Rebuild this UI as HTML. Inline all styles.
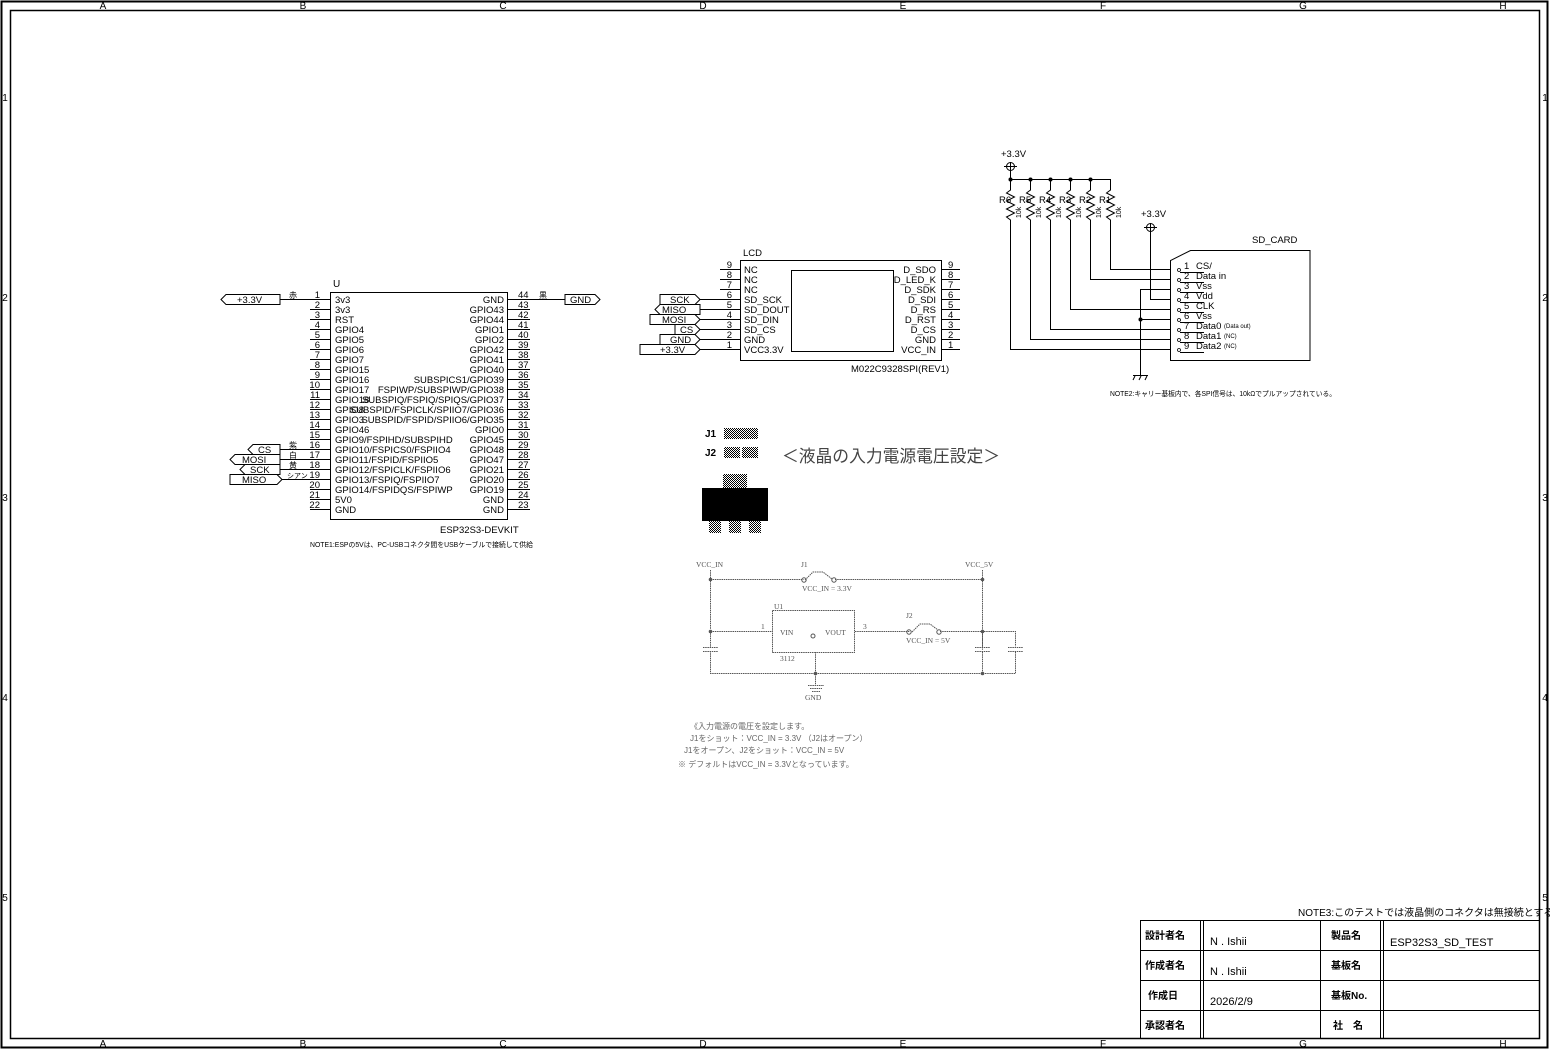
<!DOCTYPE html>
<html><head><meta charset="utf-8"><style>
html,body{margin:0;padding:0;background:#fff;}
svg{display:block;font-family:"Liberation Sans","Noto Sans CJK JP",sans-serif;}
</style></head><body>
<svg width="1550" height="1050" viewBox="0 0 1550 1050" xmlns="http://www.w3.org/2000/svg" font-size="10" fill="#000">
<defs>
<pattern id="h" width="2" height="2" patternUnits="userSpaceOnUse"><rect width="1" height="1" fill="#000"/><rect x="1" y="1" width="1" height="1" fill="#000"/></pattern>
</defs>
<g fill="none" stroke="#000" stroke-width="1">
<rect x="1.5" y="1.5" width="1546" height="1046" stroke-width="2"/>
<rect x="10.5" y="10.5" width="1529" height="1028" stroke-width="1.5"/>
</g>
<g text-anchor="middle">
<text x="103" y="9">A</text><text x="303" y="9">B</text><text x="503" y="9">C</text><text x="703" y="9">D</text><text x="903" y="9">E</text><text x="1103" y="9">F</text><text x="1303" y="9">G</text><text x="1503" y="9">H</text>
<text x="103" y="1047">A</text><text x="303" y="1047">B</text><text x="503" y="1047">C</text><text x="703" y="1047">D</text><text x="903" y="1047">E</text><text x="1103" y="1047">F</text><text x="1303" y="1047">G</text><text x="1503" y="1047">H</text>
<text x="5" y="101">1</text><text x="5" y="301">2</text><text x="5" y="501">3</text><text x="5" y="701">4</text><text x="5" y="901">5</text>
<text x="1545" y="101">1</text><text x="1545" y="301">2</text><text x="1545" y="501">3</text><text x="1545" y="701">4</text><text x="1545" y="901">5</text>
</g>

<!-- ESP32 -->
<g fill="none" stroke="#000">
<rect x="330.5" y="292.5" width="177" height="227"/>
<path d="M310 309.5h20M310 319.5h20M310 329.5h20M310 339.5h20M310 349.5h20M310 359.5h20M310 369.5h20M310 379.5h20M310 389.5h20M310 399.5h20M310 409.5h20M310 419.5h20M310 429.5h20M310 439.5h20M310 489.5h20M310 499.5h20M310 509.5h20"/>
<path d="M507 309.5h23M507 319.5h23M507 329.5h23M507 339.5h23M507 349.5h23M507 359.5h23M507 369.5h23M507 379.5h23M507 389.5h23M507 399.5h23M507 409.5h23M507 419.5h23M507 429.5h23M507 439.5h23M507 449.5h23M507 459.5h23M507 469.5h23M507 479.5h23M507 489.5h23M507 499.5h23M507 509.5h23"/>
<path d="M280 299.5h50M507 299.5h58M280 449.5h50M280 459.5h50M280 469.5h50M282 479.5h48"/>
<path d="M221 299.5l5-5h54v10h-54z"/>
<path d="M565 299.5v-5h30l5 5-5 5h-30z"/>
<path d="M248 449.5l5-5h27v10h-27z"/>
<path d="M230 459.5l5-5h45v10h-45z"/>
<path d="M240 469.5l5-5h35v10h-35z"/>
<path d="M230 474.5h47l5 5-5 5h-47z"/>
</g>
<text x="333" y="287">U</text>
<g font-size="9.5">
<text x="237" y="303">+3.3V</text><text x="570" y="303">GND</text>
<text x="258" y="453">CS</text><text x="242" y="463">MOSI</text><text x="250" y="473">SCK</text><text x="242" y="483">MISO</text>
</g>
<g font-size="8"><text x="289" y="298">赤</text><text x="539" y="298">黒</text><text x="289" y="448">紫</text><text x="289" y="458">白</text><text x="289" y="468">黄</text><text x="287" y="478" font-size="7">シアン</text></g>
<g font-size="9.5" text-anchor="end">
<text x="320" y="298">1</text><text x="320" y="308">2</text><text x="320" y="318">3</text><text x="320" y="328">4</text><text x="320" y="338">5</text><text x="320" y="348">6</text><text x="320" y="358">7</text><text x="320" y="368">8</text><text x="320" y="378">9</text><text x="320" y="388">10</text><text x="320" y="398">11</text><text x="320" y="408">12</text><text x="320" y="418">13</text><text x="320" y="428">14</text><text x="320" y="438">15</text><text x="320" y="448">16</text><text x="320" y="458">17</text><text x="320" y="468">18</text><text x="320" y="478">19</text><text x="320" y="488">20</text><text x="320" y="498">21</text><text x="320" y="508">22</text>
</g>
<g font-size="9.5">
<text x="518" y="298">44</text><text x="518" y="308">43</text><text x="518" y="318">42</text><text x="518" y="328">41</text><text x="518" y="338">40</text><text x="518" y="348">39</text><text x="518" y="358">38</text><text x="518" y="368">37</text><text x="518" y="378">36</text><text x="518" y="388">35</text><text x="518" y="398">34</text><text x="518" y="408">33</text><text x="518" y="418">32</text><text x="518" y="428">31</text><text x="518" y="438">30</text><text x="518" y="448">29</text><text x="518" y="458">28</text><text x="518" y="468">27</text><text x="518" y="478">26</text><text x="518" y="488">25</text><text x="518" y="498">24</text><text x="518" y="508">23</text>
</g>
<g font-size="9.5">
<text x="335" y="303">3v3</text><text x="335" y="313">3v3</text><text x="335" y="323">RST</text><text x="335" y="333">GPIO4</text><text x="335" y="343">GPIO5</text><text x="335" y="353">GPIO6</text><text x="335" y="363">GPIO7</text><text x="335" y="373">GPIO15</text><text x="335" y="383">GPIO16</text><text x="335" y="393">GPIO17</text><text x="335" y="403">GPIO18</text><text x="335" y="413">GPIO8</text><text x="335" y="423">GPIO3</text><text x="335" y="433">GPIO46</text><text x="335" y="443">GPIO9/FSPIHD/SUBSPIHD</text><text x="335" y="453">GPIO10/FSPICS0/FSPIIO4</text><text x="335" y="463">GPIO11/FSPID/FSPIIO5</text><text x="335" y="473">GPIO12/FSPICLK/FSPIIO6</text><text x="335" y="483">GPIO13/FSPIQ/FSPIIO7</text><text x="335" y="493">GPIO14/FSPIDQS/FSPIWP</text><text x="335" y="503">5V0</text><text x="335" y="513">GND</text>
</g>
<g font-size="9.5" text-anchor="end">
<text x="504" y="303">GND</text><text x="504" y="313">GPIO43</text><text x="504" y="323">GPIO44</text><text x="504" y="333">GPIO1</text><text x="504" y="343">GPIO2</text><text x="504" y="353">GPIO42</text><text x="504" y="363">GPIO41</text><text x="504" y="373">GPIO40</text><text x="504" y="383">SUBSPICS1/GPIO39</text><text x="504" y="393">FSPIWP/SUBSPIWP/GPIO38</text><text x="504" y="403">SUBSPIQ/FSPIQ/SPIQS/GPIO37</text><text x="504" y="413">SUBSPID/FSPICLK/SPIIO7/GPIO36</text><text x="504" y="423">SUBSPID/FSPID/SPIIO6/GPIO35</text><text x="504" y="433">GPIO0</text><text x="504" y="443">GPIO45</text><text x="504" y="453">GPIO48</text><text x="504" y="463">GPIO47</text><text x="504" y="473">GPIO21</text><text x="504" y="483">GPIO20</text><text x="504" y="493">GPIO19</text><text x="504" y="503">GND</text><text x="504" y="513">GND</text>
</g>
<text x="440" y="533" font-size="9.5">ESP32S3-DEVKIT</text>
<text x="310" y="547" font-size="7" textLength="223" lengthAdjust="spacingAndGlyphs">NOTE1:ESPの5Vは、PC-USBコネクタ間をUSBケーブルで接続して供給</text>

<!-- LCD -->
<g fill="none" stroke="#000">
<rect x="740.5" y="260.5" width="201" height="100"/>
<rect x="791.5" y="270.5" width="102" height="81"/>
<path d="M720 269.5h20M720 279.5h20M720 289.5h20M700 299.5h40M700 309.5h40M700 319.5h40M700 329.5h40M700 339.5h40M700 349.5h40"/>
<path d="M941 269.5h19M941 279.5h19M941 289.5h19M941 299.5h19M941 309.5h19M941 319.5h19M941 329.5h19M941 339.5h19M941 349.5h19"/>
<path d="M660 294.5h35l5 5-5 5h-35z"/>
<path d="M655 309.5l5-5h40v10h-40z"/>
<path d="M650 314.5h45l5 5-5 5h-45z"/>
<path d="M675 324.5h20l5 5-5 5h-20z"/>
<path d="M660 334.5h35l5 5-5 5h-35z"/>
<path d="M640 344.5h55l5 5-5 5h-55z"/>
</g>
<text x="743" y="256" font-size="9.5">LCD</text>
<g font-size="9.5"><text x="670" y="303">SCK</text><text x="662" y="313">MISO</text><text x="662" y="323">MOSI</text><text x="680" y="333">CS</text><text x="670" y="343">GND</text><text x="660" y="353">+3.3V</text></g>
<g font-size="9.5" text-anchor="end"><text x="732" y="268">9</text><text x="732" y="278">8</text><text x="732" y="288">7</text><text x="732" y="298">6</text><text x="732" y="308">5</text><text x="732" y="318">4</text><text x="732" y="328">3</text><text x="732" y="338">2</text><text x="732" y="348">1</text></g>
<g font-size="9.5"><text x="948" y="268">9</text><text x="948" y="278">8</text><text x="948" y="288">7</text><text x="948" y="298">6</text><text x="948" y="308">5</text><text x="948" y="318">4</text><text x="948" y="328">3</text><text x="948" y="338">2</text><text x="948" y="348">1</text></g>
<g font-size="9.5"><text x="744" y="273">NC</text><text x="744" y="283">NC</text><text x="744" y="293">NC</text><text x="744" y="303">SD_SCK</text><text x="744" y="313">SD_DOUT</text><text x="744" y="323">SD_DIN</text><text x="744" y="333">SD_CS</text><text x="744" y="343">GND</text><text x="744" y="353">VCC3.3V</text></g>
<g font-size="9.5" text-anchor="end"><text x="936" y="273">D_SDO</text><text x="936" y="283">D_LED_K</text><text x="936" y="293">D_SDK</text><text x="936" y="303">D_SDI</text><text x="936" y="313">D_RS</text><text x="936" y="323">D_RST</text><text x="936" y="333">D_CS</text><text x="936" y="343">GND</text><text x="936" y="353">VCC_IN</text></g>
<text x="851" y="372" font-size="9.5">M022C9328SPI(REV1)</text>

<!-- SD section -->
<g fill="none" stroke="#000">
<circle cx="1010.5" cy="166.5" r="4"/><path d="M1004 166.5h13M1010.5 162v17"/>
<circle cx="1150.5" cy="227.5" r="4"/><path d="M1144 227.5h13M1150.5 223v76.5h20"/>
<path d="M1010 179.5h101"/>
<path d="M1010.5 179v11l-4 3 8 4-8 4 8 4-8 4 8 4-8 4 4 3v129.5h160"/>
<path d="M1030.5 179v11l-4 3 8 4-8 4 8 4-8 4 8 4-8 4 4 3v119.5h140"/>
<path d="M1050.5 179v11l-4 3 8 4-8 4 8 4-8 4 8 4-8 4 4 3v109.5h120"/>
<path d="M1070.5 179v11l-4 3 8 4-8 4 8 4-8 4 8 4-8 4 4 3v89.5h100"/>
<path d="M1090.5 179v11l-4 3 8 4-8 4 8 4-8 4 8 4-8 4 4 3v59.5h80"/>
<path d="M1110.5 179v11l-4 3 8 4-8 4 8 4-8 4 8 4-8 4 4 3v49.5h60"/>
<path d="M1140.5 375v-85.5h30M1140 319.5h30"/>
<path d="M1133 375.5h15M1135 376l-2 4M1141 376l-2 4M1147 376l-2 4"/>
<path d="M1170.5 360.5v-100l20-10h119.5v110z"/>
<path d="M1180 272.5h24M1180 282.5h24M1180 292.5h24M1180 302.5h24M1180 312.5h24M1180 322.5h24M1180 332.5h24M1180 342.5h24M1180 352.5h24"/>
</g>
<g fill="#000"><circle cx="1010.5" cy="179.5" r="2"/><circle cx="1030.5" cy="179.5" r="2"/><circle cx="1050.5" cy="179.5" r="2"/><circle cx="1070.5" cy="179.5" r="2"/><circle cx="1090.5" cy="179.5" r="2"/><circle cx="1140.5" cy="319.5" r="2"/></g>
<g fill="#fff" stroke="#000" stroke-width="0.8"><circle cx="1179" cy="270" r="1.5"/><circle cx="1179" cy="280" r="1.5"/><circle cx="1179" cy="290" r="1.5"/><circle cx="1179" cy="300" r="1.5"/><circle cx="1179" cy="310" r="1.5"/><circle cx="1179" cy="320" r="1.5"/><circle cx="1179" cy="330" r="1.5"/><circle cx="1179" cy="340" r="1.5"/><circle cx="1179" cy="350" r="1.5"/></g>
<g font-size="9.5"><text x="1001" y="157">+3.3V</text><text x="1141" y="217">+3.3V</text>
<text x="999" y="203">R6</text><text x="1019" y="203">R5</text><text x="1039" y="203">R4</text><text x="1059" y="203">R3</text><text x="1079" y="203">R2</text><text x="1099" y="203">R1</text>
<text x="1252" y="243">SD_CARD</text></g>
<g font-size="7"><text transform="translate(1021,218) rotate(-90)">10k</text><text transform="translate(1041,218) rotate(-90)">10k</text><text transform="translate(1061,218) rotate(-90)">10k</text><text transform="translate(1081,218) rotate(-90)">10k</text><text transform="translate(1101,218) rotate(-90)">10k</text><text transform="translate(1121,218) rotate(-90)">10k</text></g>
<g font-size="9.5"><text x="1184" y="269">1</text><text x="1184" y="279">2</text><text x="1184" y="289">3</text><text x="1184" y="299">4</text><text x="1184" y="309">5</text><text x="1184" y="319">6</text><text x="1184" y="329">7</text><text x="1184" y="339">8</text><text x="1184" y="349">9</text>
<text x="1196" y="269">CS/</text><text x="1196" y="279">Data in</text><text x="1196" y="289">Vss</text><text x="1196" y="299">Vdd</text><text x="1196" y="309">CLK</text><text x="1196" y="319">Vss</text><text x="1196" y="329">Data0</text><text x="1196" y="339">Data1</text><text x="1196" y="349">Data2</text></g>
<g font-size="6"><text x="1224" y="328">(Data out)</text><text x="1224" y="338">(NC)</text><text x="1224" y="348">(NC)</text></g>
<text x="1110" y="396" font-size="7" textLength="226" lengthAdjust="spacingAndGlyphs">NOTE2:キャリー基板内で、各SPI信号は、10kΩでプルアップされている。</text>

<!-- jumper area -->
<text x="705" y="437" font-size="10" font-weight="bold">J1</text>
<text x="705" y="456" font-size="10" font-weight="bold">J2</text>
<rect x="724" y="428" width="34" height="11" fill="url(#h)"/>
<rect x="724" y="447" width="16" height="11" fill="url(#h)"/><rect x="742" y="447" width="16" height="11" fill="url(#h)"/>
<rect x="723" y="474" width="24" height="14" fill="url(#h)"/>
<rect x="702" y="488" width="66" height="33" fill="#000"/>
<rect x="709" y="521" width="12" height="12" fill="url(#h)"/><rect x="729" y="521" width="12" height="12" fill="url(#h)"/><rect x="749" y="521" width="12" height="12" fill="url(#h)"/>
<text x="782" y="462" font-size="17" fill="#444" textLength="218" lengthAdjust="spacingAndGlyphs">＜液晶の入力電源電圧設定＞</text>

<!-- regulator -->
<g fill="none" stroke="#555" stroke-dasharray="1.5 0.7">
<path d="M710.5 570v59M710.5 579.5h93M835 579.5h147M982.5 570v80M710.5 631.5h62M855 631.5h55M940 631.5h75.5v15M982.5 631v16"/>
<path d="M710.5 631v16M710.5 651v22M982.5 652v21M1015.5 652v21M710 673.5h306M815.5 652v33"/>
<rect x="772.5" y="610.5" width="82" height="42"/>
<path d="M703 647.5h15M703 651.5h15M975 647.5h15M975 651.5h15M1008 647.5h15M1008 651.5h15"/>
<path d="M805 580l8-8h10l9 7M912 632l8-8h10l8 6"/>
<path d="M808 685.5h16M810 688.5h12M812 691.5h8"/>
</g>
<g fill="#555"><circle cx="710.5" cy="579.5" r="1.8"/><circle cx="710.5" cy="631.5" r="1.8"/><circle cx="982.5" cy="579.5" r="1.8"/><circle cx="982.5" cy="631.5" r="1.8"/><circle cx="982.5" cy="673.5" r="1.8"/><circle cx="815.5" cy="673.5" r="1.8"/></g>
<g fill="none" stroke="#555"><circle cx="804" cy="580" r="2.2"/><circle cx="834" cy="580" r="2.2"/><circle cx="909" cy="632" r="2.2"/><circle cx="939" cy="632" r="2.2"/><circle cx="813" cy="636" r="2"/></g>
<g font-size="7.5" fill="#555" font-family="Liberation Serif">
<text x="696" y="567">VCC_IN</text><text x="965" y="567">VCC_5V</text>
<text x="801" y="567">J1</text><text x="802" y="591">VCC_IN = 3.3V</text>
<text x="906" y="618">J2</text><text x="906" y="643">VCC_IN = 5V</text>
<text x="774" y="609">U1</text><text x="780" y="635">VIN</text><text x="825" y="635">VOUT</text>
<text x="761" y="629">1</text><text x="863" y="629">3</text>
<text x="780" y="661">3112</text><text x="805" y="700">GND</text>
</g>
<g font-size="8" fill="#666">
<text x="690" y="729">《入力電源の電圧を設定します。</text>
<text x="690" y="741">J1をショット：VCC_IN = 3.3V （J2はオープン）</text>
<text x="684" y="753">J1をオープン、J2をショット：VCC_IN = 5V</text>
<text x="678" y="767">※ デフォルトはVCC_IN = 3.3Vとなっています。</text>
</g>

<!-- title block -->
<text x="1298" y="916" font-size="10">NOTE3:このテストでは液晶側のコネクタは無接続とする</text>
<g fill="none" stroke="#000">
<path d="M1140.5 920.5h399M1140.5 950.5h399M1140.5 980.5h399M1140.5 1010.5h399M1140.5 920v118M1200.5 920v118M1203.5 920v118M1320.5 920v118M1380.5 920v118M1383.5 920v118"/>
</g>
<g font-size="10" font-weight="bold">
<text x="1145" y="939">設計者名</text><text x="1145" y="969">作成者名</text><text x="1148" y="999">作成日</text><text x="1145" y="1029">承認者名</text>
<text x="1331" y="939">製品名</text><text x="1331" y="969">基板名</text><text x="1331" y="999">基板No.</text><text x="1333" y="1029">社　名</text>
</g>
<g font-size="11"><text x="1210" y="945">N . Ishii</text><text x="1210" y="975">N . Ishii</text><text x="1210" y="1005">2026/2/9</text><text x="1390" y="946">ESP32S3_SD_TEST</text></g>
</svg>
</body></html>
